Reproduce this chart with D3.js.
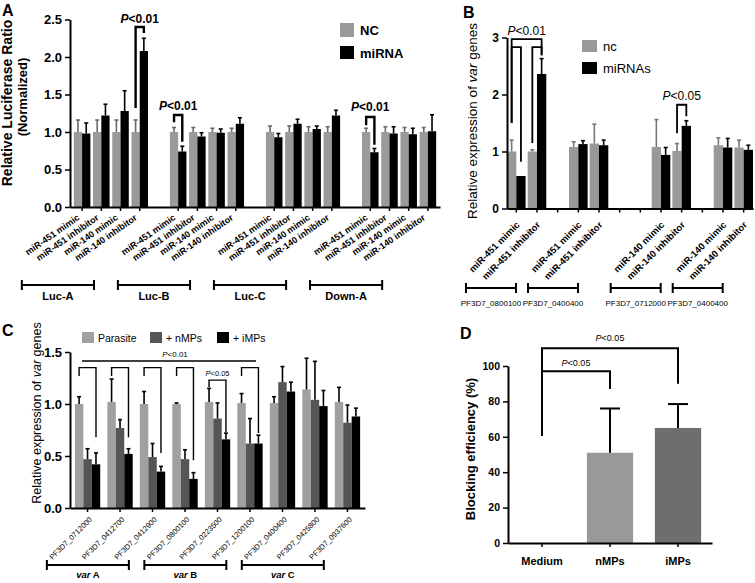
<!DOCTYPE html>
<html><head><meta charset="utf-8">
<script src="https://cdn.jsdelivr.net/npm/d3@7"></script>
<style>body{margin:0;background:#fff}svg{display:block}</style>
</head><body><svg id="chart" width="755" height="583"></svg>
<script>
// ---------------- DATA ----------------
// Panel A
const groupsA = ["Luc-A","Luc-B","Luc-C","Down-A"];
const condA = ["miR-451 mimic","miR-451 inhibitor","miR-140 mimic","miR-140 inhibitor"];
const seriesA = ["NC","miRNA"];
const ncA    = [1,1,1,1, 1,1,1,1, 1,1,1,1, 1,1,1,1];
const ncErrA = [1.16,1.16,1.16,1.16, 1.06,1.06,1.05,1.05, 1.08,1.08,1.07,1.07, 1.05,1.07,1.06,1.06];
const miA    = [0.98,1.22,1.28,2.08, 0.74,0.94,0.99,1.11, 0.93,1.11,1.04,1.22, 0.73,0.98,0.97,1.01];
const miErrA = [1.12,1.37,1.55,2.25, 0.81,0.99,1.04,1.19, 0.98,1.17,1.08,1.29, 0.78,1.07,1.05,1.23];
const ticksA = [0,0.5,1.0,1.5,2.0,2.5];

// Panel B
const genesB = ["PF3D7_0800100","PF3D7_0400400","PF3D7_0712000","PF3D7_0400400"];
const condB = ["miR-451 mimic","miR-451 inhibitor","miR-451 mimic","miR-451 inhibitor","miR-140 mimic","miR-140 inhibitor","miR-140 mimic","miR-140 inhibitor"];
const seriesB = ["nc","miRNAs"];
const ncB    = [1.00,1.00,1.08,1.14,1.08,1.01,1.11,1.07];
const ncErrB = [1.20,1.03,1.17,1.48,1.56,1.14,1.24,1.20];
const miB    = [0.57,2.36,1.13,1.11,0.94,1.45,1.07,1.03];
const miErrB = [0.57,2.63,1.19,1.20,1.07,1.54,1.23,1.11];
const ticksB = [0,1,2,3];

// Panel C
const genesC = ["PF3D7_0712000","PF3D7_0412700","PF3D7_0412900","PF3D7_0800100","PF3D7_0223500","PF3D7_1200100","PF3D7_0400400","PF3D7_0425800","PF3D7_0937600"];
const seriesC = ["Parasite","+ nMPs","+ iMPs"];
const parC    = [1.00,1.02,1.00,1.00,1.02,1.01,1.01,1.14,1.02];
const parErrC = [1.07,1.24,1.12,1.01,1.15,1.10,1.07,1.44,1.16];
const nmpC    = [0.47,0.77,0.49,0.47,0.86,0.62,1.21,1.04,0.82];
const nmpErrC = [0.57,0.85,0.62,0.56,1.01,0.86,1.36,1.41,0.99];
const impC    = [0.42,0.52,0.35,0.28,0.66,0.62,1.12,0.98,0.88];
const impErrC = [0.53,0.57,0.40,0.34,0.72,0.70,1.21,1.13,0.96];
const varGroupsC = ["A","B","C"];
const ticksC = [0,0.5,1.0,1.5];

// Panel D
const catD = ["Medium","nMPs","iMPs"];
const valD = [0,51,65];
const errD = [null,76,78.5];
const ticksD = [0,20,40,60,80,100];

// ---------------- HELPERS ----------------
const F = '"Liberation Sans", Arial, Helvetica, sans-serif';
const svg = d3.select("#chart").attr("font-family", F);

function whisker(g, cx, yTop, yErr, color, capW, sw){
  if (yErr == null || Math.abs(yErr - yTop) < 0.5) return;
  g.append("line").attr("x1",cx).attr("x2",cx).attr("y1",yTop).attr("y2",yErr).attr("stroke",color).attr("stroke-width",sw);
  g.append("line").attr("x1",cx-capW/2).attr("x2",cx+capW/2).attr("y1",yErr).attr("y2",yErr).attr("stroke",color).attr("stroke-width",sw);
}
function bracket(g, x1, x2, yTop, yL, yR, sw){
  g.append("path").attr("d",`M${x1},${yL}V${yTop}H${x2}V${yR}`).attr("fill","none").attr("stroke","#000").attr("stroke-width",sw);
}
function ptext(g, x, y, rest, size, weight){
  const t = g.append("text").attr("x",x).attr("y",y).attr("text-anchor","middle").attr("font-size",size).attr("font-weight",weight);
  t.append("tspan").attr("font-style","italic").text("P");
  t.append("tspan").text(rest);
}
function styleAxis(sel, sw){
  sel.select(".domain").attr("stroke","#000").attr("stroke-width",sw);
  sel.selectAll(".tick line").attr("stroke","#000").attr("stroke-width",sw*0.75);
  sel.selectAll("text").attr("font-family",F).attr("fill","#000");
}
function groupBracket(g, x1, x2, y){
  g.append("path").attr("d",`M${x1},${y-5}V${y+5}M${x1},${y}H${x2}M${x2},${y-5}V${y+5}`).attr("stroke","#000").attr("stroke-width",2).attr("fill","none");
}
function panelLabel(x,y,t){ svg.append("text").attr("x",x).attr("y",y).attr("font-size",16).attr("font-weight","bold").text(t); }

// ---------------- PANEL A ----------------
(function(){
  const g = svg.append("g");
  const y = d3.scaleLinear().domain([0,2.5]).range([207,19.5]);
  const keys = [];
  groupsA.forEach((gr,gi)=>{ condA.forEach(c=>keys.push(gr+"|"+c)); if(gi<groupsA.length-1) keys.push("gap|"+gi); });
  const x = d3.scaleBand().domain(keys).range([70,440]).paddingInner(0.14).paddingOuter(0.2);
  const s = d3.scaleBand().domain(seriesA).range([0,x.bandwidth()]);
  const cols = ["#9a9a9a","#000"], ecols = ["#6a6a6a","#000"];
  const rows = ncA.map((v,i)=>({key:groupsA[Math.floor(i/4)]+"|"+condA[i%4], vals:[ncA[i],miA[i]], errs:[ncErrA[i],miErrA[i]]}));
  const cx = (i,si)=> x(rows[i].key)+s(seriesA[si])+s.bandwidth()/2;
  rows.forEach(r=>{
    seriesA.forEach((sn,si)=>{
      const xx = x(r.key)+s(sn);
      g.append("rect").attr("x",xx).attr("y",y(r.vals[si])).attr("width",s.bandwidth()).attr("height",y(0)-y(r.vals[si])).attr("fill",cols[si]);
      whisker(g, xx+s.bandwidth()/2, y(r.vals[si]), y(r.errs[si]), ecols[si], 4, 1.6);
    });
  });
  const ax = g.append("g").attr("transform",`translate(0,${y(0)})`)
    .call(d3.axisBottom(x).tickValues(keys.filter(k=>!k.startsWith("gap"))).tickSize(4).tickSizeOuter(0).tickFormat(k=>k.split("|")[1]));
  styleAxis(ax,2);
  ax.selectAll("text").attr("font-size",9).attr("font-weight","bold").attr("text-anchor","end")
    .attr("x",0).attr("y",0).attr("dy",0).attr("transform","translate(-2,12) rotate(-35)");
  const ay = g.append("g").attr("transform","translate(70,0)")
    .call(d3.axisLeft(y).tickValues(ticksA).tickFormat(d3.format(".1f")).tickSize(5).tickSizeOuter(0));
  styleAxis(ay,2);
  ay.selectAll("text").attr("font-size",13).attr("font-weight","bold");
  g.append("text").attr("transform","translate(12,103) rotate(-90)").attr("text-anchor","middle").attr("font-size",14).attr("font-weight","bold").text("Relative Luciferase Ratio");
  g.append("text").attr("transform","translate(27,97) rotate(-90)").attr("text-anchor","middle").attr("font-size",13).attr("font-weight","bold").text("(Normalized)");
  groupsA.forEach((gr,gi)=>{
    const x1 = x(gr+"|"+condA[0]) - 52, x2 = x(gr+"|"+condA[3]) + x.bandwidth() - 54;
    groupBracket(g, x1, x2, 285);
    g.append("text").attr("x",(x1+x2)/2).attr("y",300).attr("text-anchor","middle").attr("font-size",11).attr("font-weight","bold").text(gr);
  });
  g.append("rect").attr("x",340).attr("y",23).attr("width",14).attr("height",14).attr("fill","#9a9a9a");
  g.append("rect").attr("x",340).attr("y",46).attr("width",14).attr("height",13).attr("fill","#000");
  g.append("text").attr("x",360).attr("y",35).attr("font-size",13).attr("font-weight","bold").text(seriesA[0]);
  g.append("text").attr("x",360).attr("y",58).attr("font-size",13).attr("font-weight","bold").text(seriesA[1]);
  const sig = [{i:3,top:2.4,l:1.32,r:2.32,ty:23},{i:4,top:1.227,l:1.13,r:0.87,ty:110},{i:12,top:1.2,l:1.09,r:0.83,ty:111}];
  sig.forEach(d=>{
    const x1=cx(d.i,0), x2=cx(d.i,1);
    bracket(g,x1,x2,y(d.top),y(d.l),y(d.r),2.4);
    ptext(g,(x1+x2)/2,d.ty,"<0.01",12,"bold");
  });
  panelLabel(2,16,"A");
})();

// ---------------- PANEL B ----------------
(function(){
  const g = svg.append("g");
  const y = d3.scaleLinear().domain([0,3]).range([208.5,37.5]);
  const gaps = [1,2,1];
  const keys = [];
  genesB.forEach((gn,gi)=>{ keys.push("b|"+(2*gi)); keys.push("b|"+(2*gi+1)); if(gi<gaps.length) for(let k=0;k<gaps[gi];k++) keys.push("gap|"+gi+"|"+k); });
  const x = d3.scaleBand().domain(keys).range([507,753]).paddingInner(0.1).paddingOuter(0);
  const s = d3.scaleBand().domain(seriesB).range([0,x.bandwidth()]);
  const cols = ["#999","#000"];
  const cx = (i,si)=> x("b|"+i)+s(seriesB[si])+s.bandwidth()/2;
  ncB.forEach((v,i)=>{
    const vals=[ncB[i],miB[i]], errs=[ncErrB[i],miErrB[i]];
    seriesB.forEach((sn,si)=>{
      const xx = x("b|"+i)+s(sn);
      g.append("rect").attr("x",xx).attr("y",y(vals[si])).attr("width",s.bandwidth()).attr("height",y(0)-y(vals[si])).attr("fill",cols[si]);
      whisker(g, xx+s.bandwidth()/2, y(vals[si]), y(errs[si]), si?"#000":"#777", 4, 1.6);
    });
  });
  const ax = g.append("g").attr("transform",`translate(0,${y(0)})`)
    .call(d3.axisBottom(x).tickSize(4).tickSizeOuter(0).tickFormat(k=>k.startsWith("b|")?condB[+k.split("|")[1]]:""));
  styleAxis(ax,2);
  ax.selectAll("text").attr("font-size",9.5).attr("font-weight","bold").attr("text-anchor","end")
    .attr("x",0).attr("y",0).attr("dy",0).attr("transform","translate(4,17) rotate(-45)");
  const ay = g.append("g").attr("transform","translate(507,0)")
    .call(d3.axisLeft(y).tickValues(ticksB).tickFormat(d3.format("d")).tickSize(5).tickSizeOuter(0));
  styleAxis(ay,2);
  ay.selectAll("text").attr("font-size",12).attr("font-weight","bold");
  const t = g.append("text").attr("transform","translate(477,121) rotate(-90)").attr("text-anchor","middle").attr("font-size",13.5);
  t.append("tspan").text("Relative expression of ");
  t.append("tspan").attr("font-style","italic").text("var");
  t.append("tspan").text(" genes");
  genesB.forEach((gn,gi)=>{
    const x1 = x("b|"+(2*gi)) - 41, x2 = x1 + 50;
    groupBracket(g, x1, x2, 288);
    g.append("text").attr("x",(x1+x2)/2).attr("y",306).attr("text-anchor","middle").attr("font-size",8).text(gn);
  });
  g.append("rect").attr("x",582).attr("y",40).attr("width",15).attr("height",12).attr("fill","#999");
  g.append("rect").attr("x",582).attr("y",62).attr("width",15).attr("height",12).attr("fill","#000");
  g.append("text").attr("x",603).attr("y",51).attr("font-size",13).text(seriesB[0]);
  g.append("text").attr("x",603).attr("y",73).attr("font-size",13).text(seriesB[1]);
  bracket(g, cx(0,0), cx(1,1), y(2.97), y(1.5), y(2.69), 1.8);
  bracket(g, cx(0,0), cx(0,1), y(2.83), y(1.5), y(0.82), 1.8);
  bracket(g, cx(1,0), cx(1,1), y(2.83), y(1.15), y(2.69), 1.8);
  ptext(g, (cx(0,0)+cx(1,1))/2, 35, "<0.01", 12, "normal");
  bracket(g, cx(5,0), cx(5,1), y(1.82), y(1.32), y(1.62), 1.8);
  ptext(g, (cx(5,0)+cx(5,1))/2, 100, "<0.05", 12, "normal");
  panelLabel(463,18,"B");
})();

// ---------------- PANEL C ----------------
(function(){
  const g = svg.append("g");
  const y = d3.scaleLinear().domain([0,1.5]).range([508,352]);
  const x = d3.scaleBand().domain(genesC).range([70,365]).paddingInner(0.22).paddingOuter(0.15);
  const s = d3.scaleBand().domain(seriesC).range([0,x.bandwidth()]);
  const cols = ["#a0a0a0","#555","#000"];
  const vals = [parC,nmpC,impC], errs=[parErrC,nmpErrC,impErrC];
  const cx = (i,si)=> x(genesC[i])+s(seriesC[si])+s.bandwidth()/2;
  genesC.forEach((gn,i)=>{
    seriesC.forEach((sn,si)=>{
      const xx = x(gn)+s(sn), v = vals[si][i];
      g.append("rect").attr("x",xx).attr("y",y(v)).attr("width",s.bandwidth()).attr("height",y(0)-y(v)).attr("fill",cols[si]);
      whisker(g, xx+s.bandwidth()/2, y(v), y(errs[si][i]), "#000", 4, 1.6);
    });
  });
  const ax = g.append("g").attr("transform",`translate(0,${y(0)})`)
    .call(d3.axisBottom(x).tickSize(4).tickSizeOuter(0));
  styleAxis(ax,2);
  ax.selectAll("text").attr("font-size",7.5).attr("text-anchor","end")
    .attr("x",0).attr("y",0).attr("dy",0).attr("transform","translate(5,12) rotate(-45)");
  const ay = g.append("g").attr("transform","translate(70,0)")
    .call(d3.axisLeft(y).tickValues(ticksC).tickFormat(d3.format(".1f")).tickSize(5).tickSizeOuter(0));
  styleAxis(ay,2);
  ay.selectAll("text").attr("font-size",13).attr("font-weight","bold");
  const t = g.append("text").attr("transform","translate(41,413) rotate(-90)").attr("text-anchor","middle").attr("font-size",12.5);
  t.append("tspan").text("Relative expression of ");
  t.append("tspan").attr("font-style","italic").text("var");
  t.append("tspan").text(" genes");
  varGroupsC.forEach((vg,k)=>{
    const x1 = x(genesC[3*k]) - 28, x2 = x1 + 82;
    groupBracket(g, x1, x2, 565);
    const tt = g.append("text").attr("x",(x1+x2)/2).attr("y",578).attr("text-anchor","middle").attr("font-size",9.5).attr("font-weight","bold");
    tt.append("tspan").attr("font-style","italic").text("var");
    tt.append("tspan").text(" "+vg);
  });
  const lg = [{x:82,c:cols[0]},{x:150,c:cols[1]},{x:217,c:cols[2]}];
  lg.forEach((d,i)=>{
    g.append("rect").attr("x",d.x).attr("y",332).attr("width",12).attr("height",11).attr("fill",d.c);
    g.append("text").attr("x",d.x+16).attr("y",342).attr("font-size",10.5).text(seriesC[i]);
  });
  g.append("line").attr("x1",82).attr("x2",256).attr("y1",361).attr("y2",361).attr("stroke","#000").attr("stroke-width",1.4);
  ptext(g,175,357,"<0.01",8,"normal");
  const br = [{i:0,r:0.68},{i:1,r:0.68},{i:2,r:0.53},{i:3,r:0.46},{i:5,r:0.72}];
  br.forEach(d=> bracket(g, cx(d.i,0), cx(d.i,2), y(1.35), y(1.27), y(d.r), 1.4));
  bracket(g, cx(4,0), cx(4,2), y(1.23), y(1.16), y(0.73), 1.4);
  ptext(g,(cx(4,0)+cx(4,2))/2,376,"<0.05",7.5,"normal");
  panelLabel(2,336,"C");
})();

// ---------------- PANEL D ----------------
(function(){
  const g = svg.append("g");
  const y = d3.scaleLinear().domain([0,100]).range([543,366]);
  const x = d3.scaleBand().domain(catD).range([508,712]).paddingInner(0.32).paddingOuter(0.16);
  const cols = ["#fff","#999","#6e6e6e"];
  catD.forEach((c,i)=>{
    if (valD[i] > 0) g.append("rect").attr("x",x(c)).attr("y",y(valD[i])).attr("width",x.bandwidth()).attr("height",y(0)-y(valD[i])).attr("fill",cols[i]);
    if (errD[i] != null) whisker(g, x(c)+x.bandwidth()/2, y(valD[i]), y(errD[i]), "#000", 20, 2);
  });
  const ax = g.append("g").attr("transform",`translate(0,${y(0)})`)
    .call(d3.axisBottom(x).tickSize(4).tickSizeOuter(0).tickPadding(10));
  styleAxis(ax,2);
  ax.selectAll("text").attr("font-size",11).attr("font-weight","bold");
  const ay = g.append("g").attr("transform","translate(508,0)")
    .call(d3.axisLeft(y).tickValues(ticksD).tickSize(5).tickSizeOuter(0));
  styleAxis(ay,2);
  ay.selectAll("text").attr("font-size",10.5).attr("font-weight","bold");
  g.append("text").attr("transform","translate(475,449) rotate(-90)").attr("text-anchor","middle").attr("font-size",13).attr("font-weight","bold").text("Blocking efficiency (%)");
  const c0 = x(catD[0])+x.bandwidth()/2, c1 = x(catD[1])+x.bandwidth()/2, c2 = x(catD[2])+x.bandwidth()/2;
  bracket(g, c0, c1, y(97), y(60.5), y(87), 2);
  bracket(g, c0, c2, y(110), y(97), y(90), 2);
  ptext(g,(c0+c1)/2,366,"<0.05",9,"normal");
  ptext(g,(c0+c2)/2,341,"<0.05",9,"normal");
  panelLabel(460,339,"D");
})();
</script></body></html>
